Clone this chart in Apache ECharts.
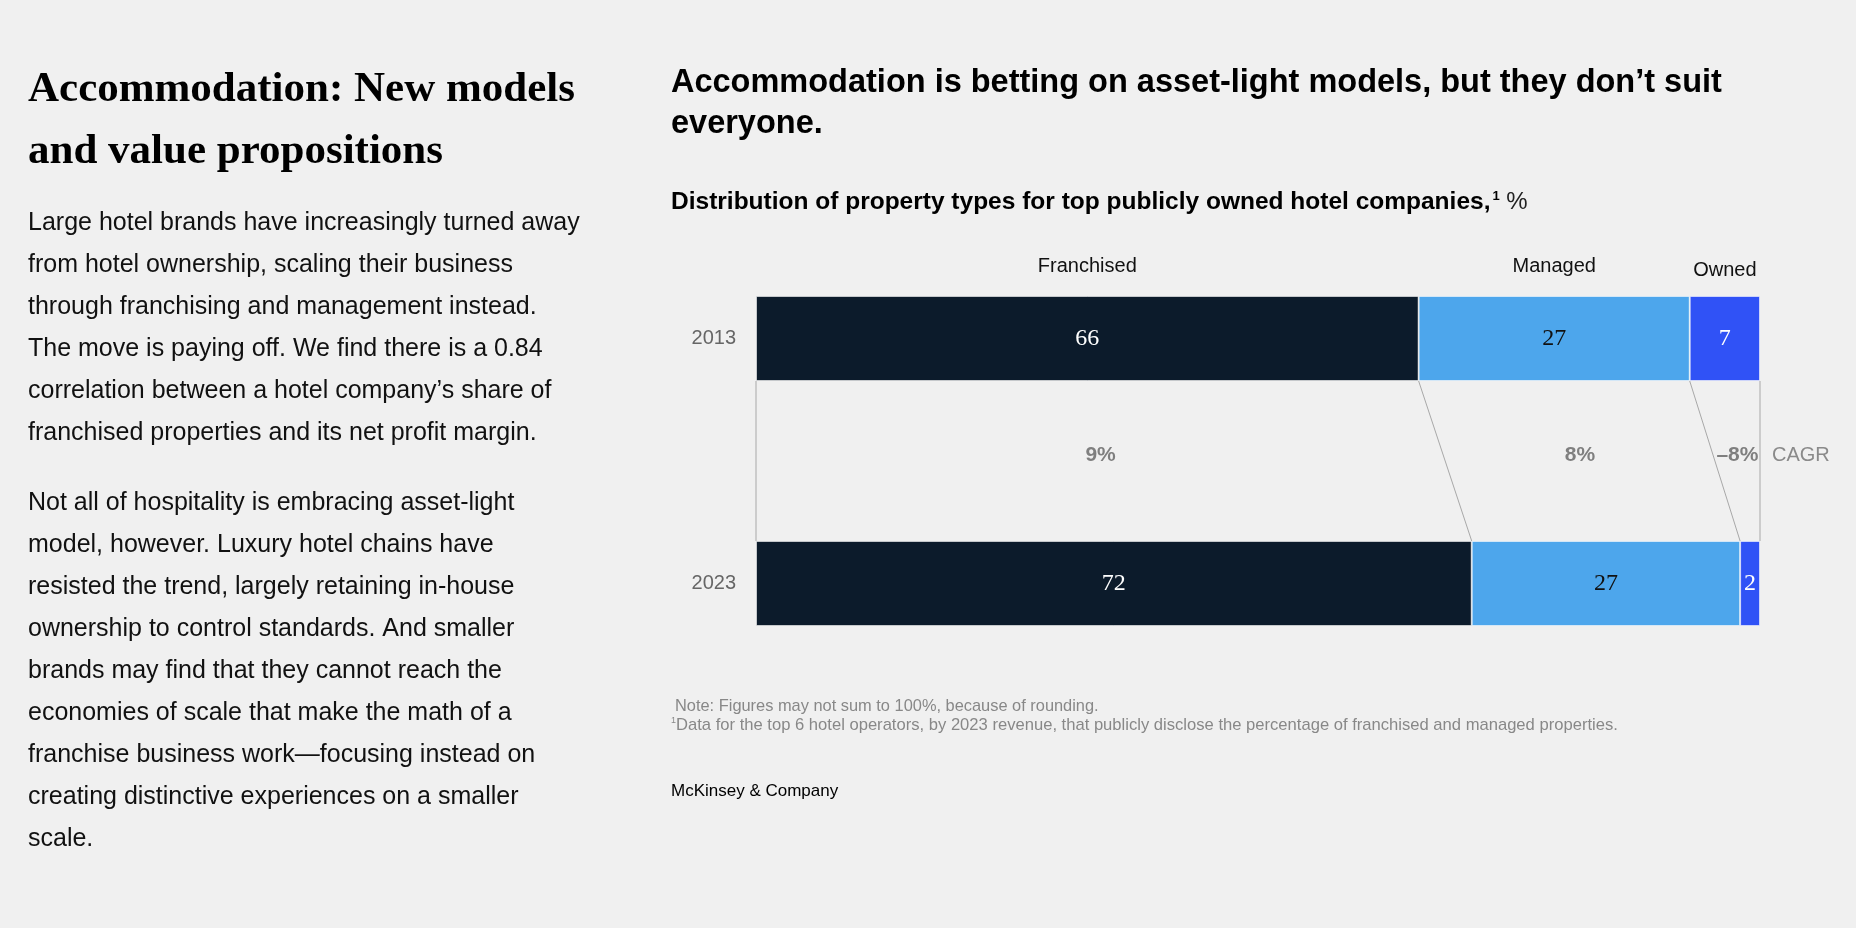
<!DOCTYPE html>
<html>
<head>
<meta charset="utf-8">
<script src="https://cdn.jsdelivr.net/npm/echarts@6/dist/echarts.min.js"></script>
<style>
html,body{margin:0;padding:0;background:#f0f0f0;}
#chart{width:1856px;height:928px;}
</style>
</head>
<body>
<div id="chart"></div>
<script>
// ---- data ----
var years = ['2013', '2023'];
var typeNames = ['Franchised', 'Managed', 'Owned'];
var franchised = [66, 72];
var managed = [27, 27];
var owned = [7, 2];
var cagr = [9, 8, -8];
var cagrLabel = 'CAGR';

var leftTitle = ['Accommodation: New models', 'and value propositions'];
var para1 = [
  'Large hotel brands have increasingly turned away',
  'from hotel ownership, scaling their business',
  'through franchising and management instead.',
  'The move is paying off. We find there is a 0.84',
  'correlation between a hotel company\u2019s share of',
  'franchised properties and its net profit margin.'
];
var para2 = [
  'Not all of hospitality is embracing asset-light',
  'model, however. Luxury hotel chains have',
  'resisted the trend, largely retaining in-house',
  'ownership to control standards. And smaller',
  'brands may find that they cannot reach the',
  'economies of scale that make the math of a',
  'franchise business work\u2014focusing instead on',
  'creating distinctive experiences on a smaller',
  'scale.'
];
var chartTitle = ['Accommodation is betting on asset-light models, but they don\u2019t suit', 'everyone.'];
var subtitle = 'Distribution of property types for top publicly owned hotel companies,';
var note1 = 'Note: Figures may not sum to 100%, because of rounding.';
var note2 = 'Data for the top 6 hotel operators, by 2023 revenue, that publicly disclose the percentage of franchised and managed properties.';
var source = 'McKinsey & Company';

// ---- styles ----
var colors = ['#0c1b2b', '#4da6ec', '#3052f6'];
var labelColors = ['#ffffff', '#111111', '#ffffff'];
var SANS = '"Liberation Sans", Arial, sans-serif';
var SERIF = '"Liberation Serif", "Times New Roman", serif';
var BAR_W = 85;

var seriesVals = [franchised, managed, owned];
var totals = years.map(function (y, i) { return franchised[i] + managed[i] + owned[i]; });

var chart = echarts.init(document.getElementById('chart'));

var series = seriesVals.map(function (vals, s) {
  return {
    name: typeNames[s],
    type: 'bar',
    stack: 'all',
    barWidth: BAR_W,
    itemStyle: { color: colors[s], borderColor: 'rgba(255,255,255,0.55)', borderWidth: 1 },
    label: {
      show: true,
      position: 'inside',
      color: labelColors[s],
      fontFamily: SERIF,
      fontSize: 24,
      formatter: function (p) { return p.data.raw; }
    },
    data: vals.map(function (v, i) { return { value: v / totals[i] * 100, raw: v }; })
  };
});

chart.setOption({
  backgroundColor: '#f0f0f0',
  animation: false,
  grid: { left: 756, right: 96, top: 216, bottom: 222 },
  xAxis: { type: 'value', min: 0, max: 100, show: false },
  yAxis: {
    type: 'category',
    data: years,
    inverse: true,
    axisLine: { show: false },
    axisTick: { show: false },
    axisLabel: { margin: 20, color: '#666', fontFamily: SANS, fontSize: 20 }
  },
  series: series
});

// ---- overlays computed through the chart's scales ----
function px(v, yi) { return chart.convertToPixel({ gridIndex: 0 }, [v, years[yi]]); }
var g = [];

function txt(text, x, y, opt) {
  var st = Object.assign({
    text: text, x: x, y: y, fill: '#111', fontFamily: SANS, fontSize: 20,
    textAlign: 'left', textVerticalAlign: 'middle', align: 'left', verticalAlign: 'middle'
  }, opt || {});
  if (st.textAlign) st.align = st.textAlign;
  if (st.textVerticalAlign) st.verticalAlign = st.textVerticalAlign;
  g.push({ type: 'text', silent: true, style: st });
}

// left column
leftTitle.forEach(function (t, i) {
  txt(t, 28, 89.5 + i * 62, { fontFamily: SERIF, fontWeight: 'bold', fontSize: 43, fill: '#000' });
});
para1.forEach(function (t, i) { txt(t, 28, 223.5 + i * 41.9, { fontSize: 25, fill: '#111' }); });
para2.forEach(function (t, i) { txt(t, 28, 503.5 + i * 41.9, { fontSize: 25, fill: '#111' }); });

// chart titles
chartTitle.forEach(function (t, i) {
  txt(t, 671, 83.5 + i * 40.5, { fontWeight: 'bold', fontSize: 32.5, fill: '#000' });
});
g.push({
  type: 'text', silent: true,
  style: {
    x: 671, y: 202, verticalAlign: 'middle', textVerticalAlign: 'middle',
    text: '{b|' + subtitle + '}{s|1}{n| %}',
    rich: {
      b: { fontFamily: SANS, fontWeight: 'bold', fontSize: 24.5, fill: '#000', color: '#000' },
      s: { fontFamily: SANS, fontWeight: 'bold', fontSize: 13, verticalAlign: 'top', fill: '#000', color: '#000', padding: [0, 0, 0, 2] },
      n: { fontFamily: SANS, fontSize: 24, fill: '#222', color: '#222' }
    }
  }
});

// bar geometry
var yTop0 = px(0, 0)[1] - BAR_W / 2;
var yBot0 = px(0, 0)[1] + BAR_W / 2;
var yTop1 = px(0, 1)[1] - BAR_W / 2;
var cum0 = [0], cum1 = [0];
seriesVals.forEach(function (vals, s) {
  cum0.push(cum0[s] + vals[0] / totals[0] * 100);
  cum1.push(cum1[s] + vals[1] / totals[1] * 100);
});

// category headers
typeNames.forEach(function (n, s) {
  var xc = (px(cum0[s], 0)[0] + px(cum0[s + 1], 0)[0]) / 2;
  txt(n, xc, yTop0 - (s === 2 ? 26 : 30), { textAlign: 'center', fontSize: 20, fill: '#111' });
});

// connector lines
for (var k = 0; k < cum0.length; k++) {
  var xa = px(cum0[k], 0)[0], xb = px(cum1[k], 1)[0];
  g.push({
    type: 'line', silent: true,
    shape: { x1: xa, y1: yBot0, x2: xb, y2: yTop1 },
    style: { stroke: '#a8a8a8', lineWidth: 1 }
  });
}

// CAGR labels
var midY = (yBot0 + yTop1) / 2 - 6;
cagr.forEach(function (c, s) {
  var xc = (px(cum0[s], 0)[0] + px(cum0[s + 1], 0)[0] + px(cum1[s], 1)[0] + px(cum1[s + 1], 1)[0]) / 4;
  var label = (c < 0 ? '\u2013' + Math.abs(c) : c) + '%';
  txt(label, xc, midY, { textAlign: 'center', fontWeight: 'bold', fontSize: 21, fill: '#7f7f7f' });
});
txt(cagrLabel, px(100, 0)[0] + 12, midY, { fontSize: 20, fill: '#8a8a8a' });

// notes
txt(note1, 675, 706, { fontSize: 16.4, fill: '#888' });
g.push({
  type: 'text', silent: true,
  style: {
    x: 671, y: 725, verticalAlign: 'middle', textVerticalAlign: 'middle',
    text: '{s|1}{n|' + note2 + '}',
    rich: {
      s: { fontFamily: SANS, fontSize: 9, verticalAlign: 'top', fill: '#888', color: '#888' },
      n: { fontFamily: SANS, fontSize: 16.6, fill: '#888', color: '#888' }
    }
  }
});
txt(source, 671, 791, { fontSize: 17, fill: '#000' });

chart.setOption({ graphic: { elements: g } });
</script>
</body>
</html>
